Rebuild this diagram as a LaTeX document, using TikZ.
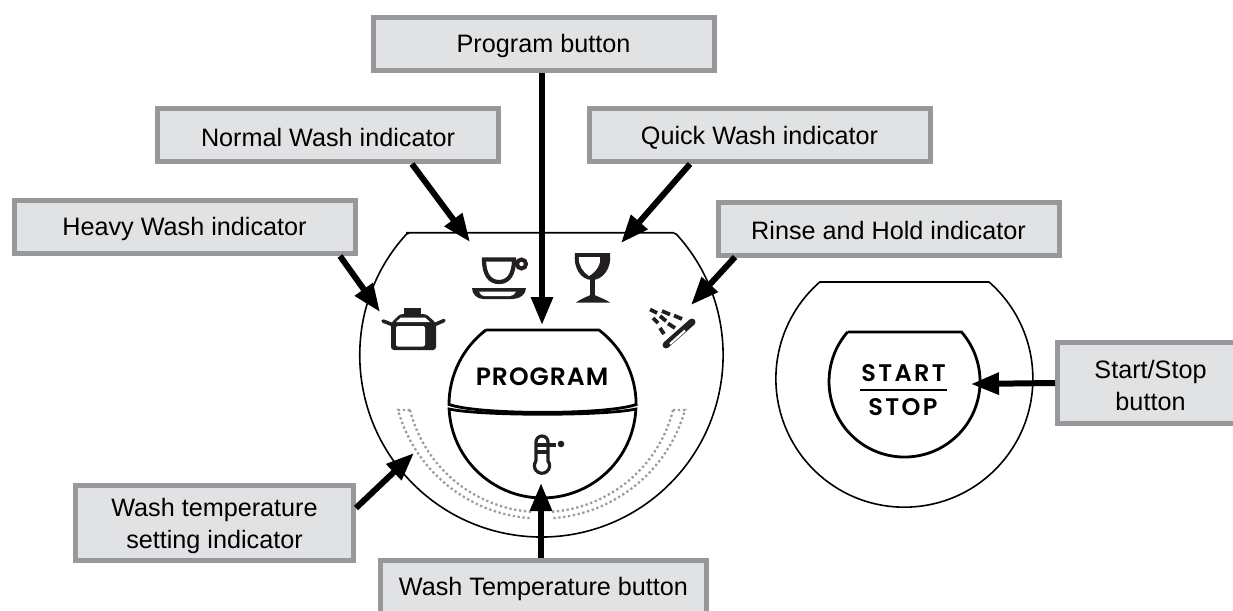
\documentclass[tikz,border=0pt]{standalone}
\usepackage{fontspec}
\setmainfont{Liberation Sans}
\newfontfamily\panelfont[LetterSpace=4]{Poppins SemiBold}
\newfontfamily\startfont[LetterSpace=10]{Poppins SemiBold}
\usetikzlibrary{arrows.meta}
\definecolor{boxfill}{HTML}{E1E2E4}
\definecolor{boxline}{HTML}{97989B}
\definecolor{icondark}{HTML}{231F20}
\definecolor{leddot}{HTML}{9C9C9C}

\begin{document}
\begin{tikzpicture}[x=1pt,y=-1pt,
	labelbox/.style={draw=boxline,fill=boxfill,line width=5pt,minimum height=53pt,minimum width=341pt,inner sep=0pt,align=center,font=\fontsize{25.2}{32}\selectfont,execute at begin node={\rule{0pt}{23pt}}},
	pointer/.style={line width=6pt,-{Triangle[length=28pt,width=21pt]}},
	outline/.style={draw=black,line width=1.6pt},
	keyline/.style={draw=black,line width=2.8pt},
	iconline/.style={draw=icondark,line width=3pt},
	ledtrack/.style={draw=leddot,line width=2.3pt,dash pattern=on 2.3pt off 2.6pt},
	keytext/.style={font=\fontsize{25}{25}\panelfont,text=black,inner sep=0pt}]
	\useasboundingbox (0,0) rectangle (1233,610);

	% panels
	\draw [outline,rounded corners=2pt] (408,232.7) -- (675,232.7) arc [start angle=42.6,end angle=-222.6,radius=181.5pt] -- cycle;
	\draw [outline] (820,282) -- (989,282) arc [start angle=48.8,end angle=-228.8,radius=128.5pt] -- cycle;

	% temperature track
	\draw [ledtrack] (410,410) -- (398,410) arc [start angle=195.6,end angle=266,radius=148.5pt];
	\draw [ledtrack] (410,410) arc [start angle=194.1,end angle=266,radius=135pt];
	\draw [ledtrack] (673,410) -- (685,410) arc [start angle=-15.6,end angle=-86,radius=148.5pt];
	\draw [ledtrack] (673,410) arc [start angle=-14.1,end angle=-86,radius=135pt];

	% keys
	\draw [keyline] (486,330) -- (599,330) arc [start angle=52.9,end angle=0,radius=93.5pt] .. controls (605,415) and (480,415) .. (449,404.5) arc [start angle=180,end angle=127.1,radius=93.5pt] -- cycle;
	\draw [keyline] (449.1,409) arc [start angle=182.8,end angle=357.2,radius=93.5pt] .. controls (605,416) and (480,416) .. cycle;
	\draw [keyline] (847.5,332) -- (961.5,332) arc [start angle=41,end angle=-221,radius=75.5pt] -- cycle;

	% cup
	\draw [iconline,line width=4pt] (521.5,264) circle (4.5);
	\draw [iconline,line width=4.2pt,fill=white] (484,259.5) -- (514,259.5) .. controls (514,275) and (508,282) .. (499,282) .. controls (490,282) and (484,275) .. (484,259.5) -- cycle;
	\fill [icondark] (472,288) -- (526,288) .. controls (526,294) and (520,299) .. (513,299) -- (483,299) .. controls (477,299) and (472,294) .. (472,288) -- cycle;
	\fill [white] (479,291.5) -- (516,291.5) .. controls (514,295) and (512,296) .. (510,296) -- (484,296) .. controls (482,296) and (481,295) .. (479,291.5) -- cycle;

	% glass
	\fill [icondark] (575,253) -- (610,253) .. controls (612,268) and (603,280) .. (592,280) .. controls (581,280) and (573,268) .. (575,253) -- cycle;
	\fill [white] (579,257) -- (600,257) .. controls (601,264) and (597,271) .. (589,276) .. controls (583,272) and (578,265) .. (579,257) -- cycle;
	\draw [icondark,line width=4.6pt] (592.5,278) -- (592.5,298);
	\fill [icondark] (576,302.5) .. controls (582,298) and (587,297) .. (592.5,294) .. controls (598,297) and (603,298) .. (610,302.5) -- cycle;

	% pot
	\fill [icondark,rounded corners=3pt] (400,314) -- (426,314) -- (436,323) -- (436,350) -- (391,350) -- (391,323) -- cycle;
	\fill [white,rounded corners=2pt] (396,326) -- (425,326) -- (425,346.5) -- (396,346.5) -- cycle;
	\fill [white] (401,317.5) -- (425,317.5) -- (430,322) -- (396,322) -- cycle;
	\fill [icondark] (404,308) rectangle (421,316);
	\draw [icondark,line width=3.6pt,line cap=round] (383,321) -- (392,324.5) (435,324.5) -- (444,320.5);

	% spray
	\foreach \sx/\sy/\ex/\ey in {650/309.5/657/313,662/311/670/314.5,674/315.5/682/319,653/318/658/323,660/316/666/321,668/323.5/675/328,660/328/664/334}
		\draw [icondark,line width=3.8pt] (\sx,\sy) -- (\ex,\ey);
	\draw [icondark,line width=7pt,line cap=round] (666,345) -- (692,322);
	\draw [white,line width=2.2pt] (670,344) -- (685,330.5);

	% thermometer
	\draw [iconline,line width=3.2pt] (536,461) -- (536,442) arc [start angle=180,end angle=0,radius=6pt] -- (548,461) arc [start angle=38,end angle=-218,radius=7.6pt];
	\draw [iconline,line width=3.2pt] (536,445) -- (556,445) (536,452) -- (548,452);
	\fill [icondark] (561,444) circle (3.3);

	% key texts
	\node [keytext] (programtext) at (542,377) {PROGRAM};
	\node [keytext,font=\fontsize{24}{24}\startfont] (starttext) at (903.5,373.5) {START};
	\node [keytext,font=\fontsize{24}{24}\startfont] (stoptext) at (903,407) {STOP};
	\draw [line width=1.5pt] (860,390) -- (947,390);

	% arrow ends
	\coordinate (normaltail) at (412,164);
	\coordinate (normaltip) at (470,242);
	\coordinate (quicktail) at (690,164);
	\coordinate (quicktip) at (621,243);
	\coordinate (heavytail) at (340,256);
	\coordinate (heavytip) at (380,312);
	\coordinate (rinsetail) at (735,257);
	\coordinate (rinsetip) at (691,305);
	\coordinate (settingtail) at (356,508);
	\coordinate (settingtip) at (414,453);
	\coordinate (programtip) at (542,325);
	\coordinate (temptip) at (541,483);
	\coordinate (starttip) at (971,384);

	% labels
	\node [labelbox] (programbox) at (543.5,44) {Program button};
	\node [labelbox] (normalbox) at (328,135) {Normal Wash indicator};
	\node [labelbox] (quickbox) at (759.5,135) {Quick Wash indicator};
	\node [labelbox] (heavybox) at (184.5,227) {Heavy Wash indicator};
	\node [labelbox] (rinsebox) at (888.5,228.5) {Rinse and Hold indicator};
	\node [labelbox,minimum width=186pt,minimum height=81pt] (startbox) at (1150.5,383) {\rule{0pt}{24pt}Start/Stop\\button};
	\node [labelbox,minimum width=278pt,minimum height=75pt] (settingbox) at (214.5,523) {\rule{0pt}{24pt}Wash temperature\\setting indicator};
	\node [labelbox,minimum width=326pt] (tempbox) at (543.5,587) {Wash Temperature button};

	% arrows
	\draw [pointer] (programbox.south) ++(-1.5,0) -- (programtip);
	\draw [pointer] (normaltail) -- (normaltip);
	\draw [pointer] (quicktail) -- (quicktip);
	\draw [pointer] (heavytail) -- (heavytip);
	\draw [pointer] (rinsetail) -- (rinsetip);
	\draw [pointer] (settingtail) -- (settingtip);
	\draw [pointer] (tempbox.north -| temptip) -- (temptip);
	\draw [pointer] (startbox.west) -- (starttip);
\end{tikzpicture}
\end{document}
